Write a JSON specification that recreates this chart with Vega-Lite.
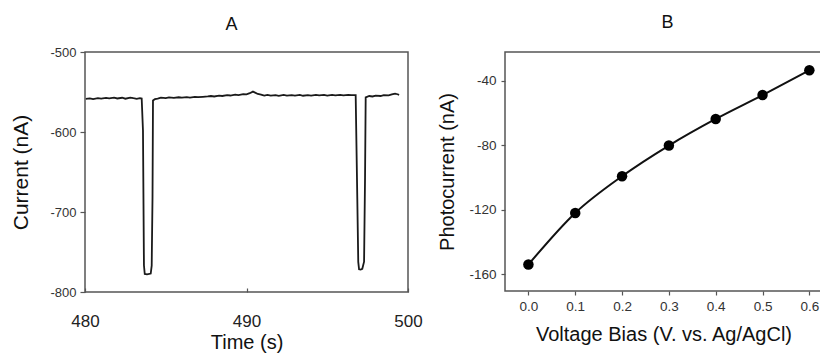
{
  "$schema": "https://vega.github.io/schema/vega-lite/v6.json",
  "background": "white",
  "padding": {"left": 10, "top": 13, "right": 0, "bottom": 0},
  "config": {
    "font": "Liberation Sans",
    "view": {"stroke": "#555", "strokeWidth": 1.5},
    "title": {"fontSize": 18, "fontWeight": "normal", "color": "#111", "frame": "group"},
    "axis": {"grid": false, "domain": false, "titleFontWeight": "normal", "titleColor": "#111", "labelColor": "#333", "tickColor": "#555", "tickWidth": 1.2, "labelExpr": "replace(datum.label, '\u2212', '-')"}
  },
  "spacing": 97,
  "bounds": "flush",
  "hconcat": [
    {
      "width": 323,
      "height": 240,
      "title": {"text": "A", "offset": 12, "dx": -15},
      "data": {"values": [
        {"t": 480.05, "i": -558.5}, {"t": 480.3, "i": -558.0}, {"t": 480.5, "i": -558.8}, {"t": 480.8, "i": -557.6},
        {"t": 481.0, "i": -558.2}, {"t": 481.3, "i": -557.3}, {"t": 481.5, "i": -558.0}, {"t": 481.8, "i": -557.0},
        {"t": 482.0, "i": -558.1}, {"t": 482.3, "i": -557.2}, {"t": 482.5, "i": -558.4}, {"t": 482.8, "i": -557.0},
        {"t": 483.0, "i": -557.8}, {"t": 483.2, "i": -558.5}, {"t": 483.4, "i": -557.6}, {"t": 483.51, "i": -558.0},
        {"t": 483.59, "i": -598}, {"t": 483.65, "i": -766.6}, {"t": 483.7, "i": -777.5}, {"t": 483.84, "i": -778},
        {"t": 484.07, "i": -777}, {"t": 484.13, "i": -767}, {"t": 484.18, "i": -682.6}, {"t": 484.21, "i": -560.5},
        {"t": 484.33, "i": -559.0}, {"t": 484.5, "i": -558.2}, {"t": 484.7, "i": -557.0}, {"t": 485.0, "i": -557.6},
        {"t": 485.2, "i": -556.8}, {"t": 485.5, "i": -557.4}, {"t": 485.8, "i": -556.6}, {"t": 486.0, "i": -557.0},
        {"t": 486.3, "i": -556.4}, {"t": 486.5, "i": -556.9}, {"t": 486.8, "i": -556.2}, {"t": 487.0, "i": -556.5},
        {"t": 487.3, "i": -556.0}, {"t": 487.6, "i": -555.5}, {"t": 487.8, "i": -555.0}, {"t": 488.0, "i": -555.6},
        {"t": 488.3, "i": -554.6}, {"t": 488.5, "i": -555.0}, {"t": 488.8, "i": -554.0}, {"t": 489.0, "i": -554.4},
        {"t": 489.3, "i": -553.4}, {"t": 489.5, "i": -553.9}, {"t": 489.8, "i": -552.6}, {"t": 490.0, "i": -553.0},
        {"t": 490.2, "i": -551.5}, {"t": 490.4, "i": -549.5}, {"t": 490.5, "i": -550.5}, {"t": 490.7, "i": -552.5},
        {"t": 490.9, "i": -553.2}, {"t": 491.1, "i": -554.5}, {"t": 491.3, "i": -553.6}, {"t": 491.5, "i": -554.6},
        {"t": 491.8, "i": -553.8}, {"t": 492.0, "i": -554.8}, {"t": 492.3, "i": -553.7}, {"t": 492.5, "i": -554.6},
        {"t": 492.8, "i": -553.9}, {"t": 493.0, "i": -554.5}, {"t": 493.3, "i": -553.6}, {"t": 493.5, "i": -554.7},
        {"t": 493.8, "i": -553.8}, {"t": 494.0, "i": -554.4}, {"t": 494.3, "i": -553.5}, {"t": 494.5, "i": -554.3},
        {"t": 494.8, "i": -553.6}, {"t": 495.0, "i": -554.5}, {"t": 495.3, "i": -553.7}, {"t": 495.5, "i": -554.2},
        {"t": 495.8, "i": -553.5}, {"t": 496.0, "i": -554.3}, {"t": 496.3, "i": -553.6}, {"t": 496.5, "i": -554.0},
        {"t": 496.76, "i": -554.0}, {"t": 496.86, "i": -682.6}, {"t": 496.92, "i": -762.3}, {"t": 496.97, "i": -771.6},
        {"t": 497.07, "i": -772.0}, {"t": 497.17, "i": -771.0}, {"t": 497.28, "i": -762.0}, {"t": 497.34, "i": -657.0},
        {"t": 497.38, "i": -556.7}, {"t": 497.46, "i": -556.0}, {"t": 497.6, "i": -555.0}, {"t": 497.8, "i": -555.6},
        {"t": 498.0, "i": -554.5}, {"t": 498.3, "i": -555.0}, {"t": 498.5, "i": -553.8}, {"t": 498.8, "i": -554.2},
        {"t": 499.0, "i": -553.0}, {"t": 499.2, "i": -552.0}, {"t": 499.35, "i": -552.8}, {"t": 499.45, "i": -553.5}
      ]},
      "mark": {"type": "line", "color": "#1a1a1a", "strokeWidth": 1.8},
      "encoding": {
        "x": {"field": "t", "type": "quantitative", "scale": {"domain": [480, 500], "nice": false},
          "axis": {"title": "Time (s)", "values": [480, 490, 500], "tickSize": -4, "labelPadding": 25, "labelFontSize": 17, "labelColor": "#222", "titleFontSize": 20, "titlePadding": 3, "labelFlush": false}},
        "y": {"field": "i", "type": "quantitative", "scale": {"domain": [-800, -500], "nice": false, "zero": false},
          "axis": {"title": "Current (nA)", "values": [-800, -700, -600, -500], "tickSize": 5, "labelPadding": 4, "labelFontSize": 13, "titleFontSize": 21, "titlePadding": 18}}
      }
    },
    {
      "width": 317,
      "height": 239,
      "title": {"text": "B", "offset": 20, "dx": 4},
      "data": {"values": [
        {"v": 0.0, "p": -154.0}, {"v": 0.1, "p": -122.0}, {"v": 0.2, "p": -99.2}, {"v": 0.3, "p": -80.2},
        {"v": 0.4, "p": -63.7}, {"v": 0.5, "p": -48.9}, {"v": 0.6, "p": -33.5}
      ]},
      "encoding": {
        "x": {"field": "v", "type": "quantitative", "scale": {"domain": [-0.05, 0.627], "nice": false, "zero": false},
          "axis": {"title": "Voltage Bias (V. vs. Ag/AgCl)", "values": [0, 0.1, 0.2, 0.3, 0.4, 0.5, 0.6], "format": ".1f", "tickSize": 4, "labelPadding": 4, "labelFontSize": 13.5, "titleFontSize": 20, "titlePadding": 12}},
        "y": {"field": "p", "type": "quantitative", "scale": {"domain": [-170.4, -22.2], "nice": false, "zero": false},
          "axis": {"title": "Photocurrent (nA)", "values": [-160, -120, -80, -40], "tickSize": 4, "labelPadding": 5, "labelFontSize": 13.5, "titleFontSize": 20, "titlePadding": 11}}
      },
      "layer": [
        {"mark": {"type": "line", "color": "#111", "strokeWidth": 2, "interpolate": "monotone"}},
        {"mark": {"type": "point", "filled": true, "color": "#000", "size": 110, "opacity": 1}}
      ]
    }
  ]
}
